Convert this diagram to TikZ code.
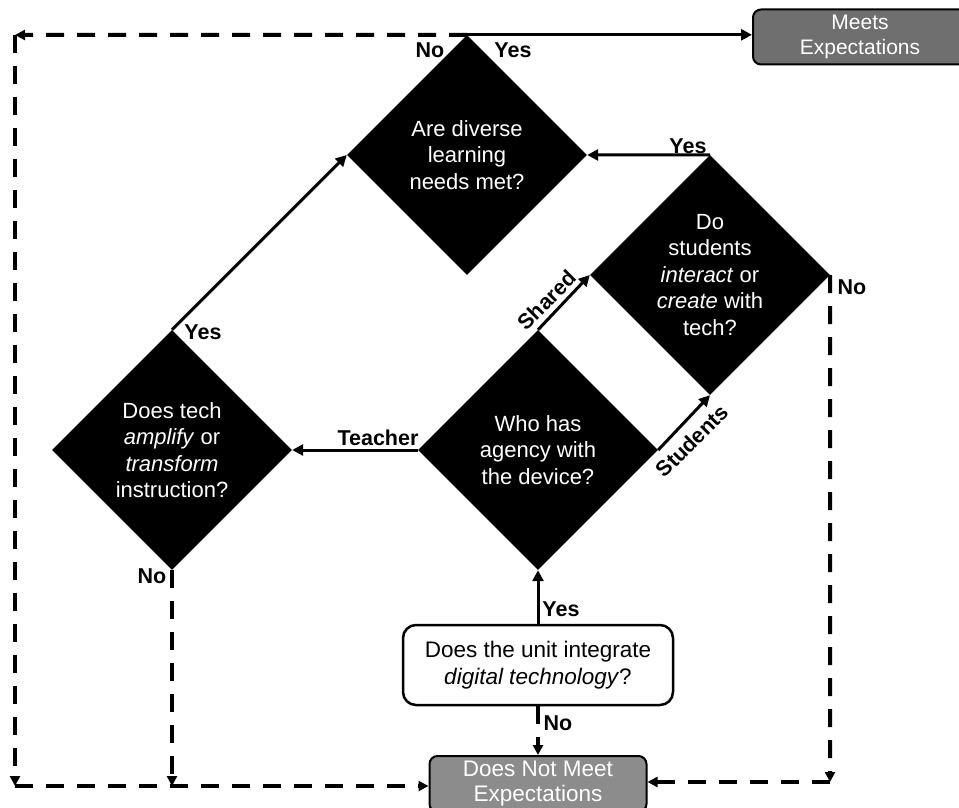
\documentclass[tikz,border=0pt]{standalone}
\usepackage{fontspec}
\setmainfont{Liberation Sans}
\usetikzlibrary{shapes.geometric,arrows.meta}
\definecolor{gdark}{HTML}{6F6F6F}
\definecolor{glight}{HTML}{8C8C8C}
\begin{document}
\begin{tikzpicture}[x=1pt,y=-1pt,
  dq/.style={diamond, fill=black, draw=none, minimum width=240pt, minimum height=240pt, inner sep=0pt, text=white, align=center, font=\fontsize{22}{26.5}\selectfont},
  gbox/.style={rectangle, rounded corners=8pt, draw=black, line width=2pt, text=white, align=center, inner sep=0pt},
  startbox/.style={rectangle, rounded corners=13pt, draw=black, fill=white, line width=2.5pt, text=black, align=center, font=\fontsize{22.5}{27}\selectfont, inner sep=0pt, minimum width=270pt, minimum height=80pt},
  conn/.style={line width=3pt, -{Triangle[length=11pt,width=11pt]}},
  dconn/.style={line width=4pt, dash pattern=on 18pt off 13pt, -{Triangle[length=10pt,width=10pt]}},
  lab/.style={font=\bfseries\fontsize{21.5}{24}\selectfont, inner sep=0pt}
]
\clip (0,0) rectangle (959,808);
\fill[white] (0,0) rectangle (959,808);

% decision diamonds
\node[dq] (d1) at (467,155) {Are diverse\\learning\\needs met?};
\node[dq] (d2) at (710,275) {Do\\students\\\textit{interact} or\\\textit{create} with\\tech?};
\node[dq] (d3) at (538,450) {Who has\\agency with\\the device?};
\node[dq] (d4) at (172,450) {Does tech\\\textit{amplify} or\\\textit{transform}\\instruction?};

% boxes
\node[startbox] (s) at (538,665) {Does the unit integrate\\\textit{digital technology}?};
\node[gbox, fill=gdark, minimum width=214pt, minimum height=55pt, font=\fontsize{21}{25}\selectfont] (me) at (860,37) {Meets\\Expectations};
\node[gbox, fill=glight, minimum width=217pt, minimum height=56pt, font=\fontsize{22.5}{25}\selectfont] (nm) at (538,784) {Does Not Meet\\Expectations};

% corner coordinates
\coordinate (tl) at (15,35);
\coordinate (bl) at (15,786);
\coordinate (b4) at (172,786);
\coordinate (br) at (830,782);

% solid connectors
\draw[conn] (d1.north) -- (d1.north -| me.west);
\draw[conn] (d4.north) -- (d1.west);
\draw[conn] (d2.north) -- (d1.east);
\draw[conn] (d3.north) -- (d2.west);
\draw[conn] (d3.east) -- (d2.south);
\draw[conn] (d3.west) -- (d4.east);
\draw[conn] (s.north) -- (d3.south);

% dashed connectors
\draw[dconn] (d1.north) -- (tl);
\draw[dconn] (tl) -- (bl);
\draw[dconn] (bl) -- (bl -| nm.west);
\draw[dconn] (d4.south) -- (b4);
\draw[dconn] (s.south) -- (nm.north);
\draw[dconn] (d2.east) -- (br);
\draw[dconn] (br) -- (br -| nm.east);

% labels
\node[lab] (lno1) at (430,50) {No};
\node[lab] (lyes1) at (513,50) {Yes};
\node[lab] (lyes2) at (688,146) {Yes};
\node[lab] (lno2) at (852,287) {No};
\node[lab] (lyes4) at (203,332) {Yes};
\node[lab] (lno4) at (152,576) {No};
\node[lab] (lteach) at (378,438) {Teacher};
\node[lab, rotate=45] (lshared) at (547,300) {Shared};
\node[lab, rotate=45] (lstud) at (692,441) {Students};
\node[lab] (lyes5) at (561,609) {Yes};
\node[lab] (lno5) at (558,723) {No};
\end{tikzpicture}
\end{document}
